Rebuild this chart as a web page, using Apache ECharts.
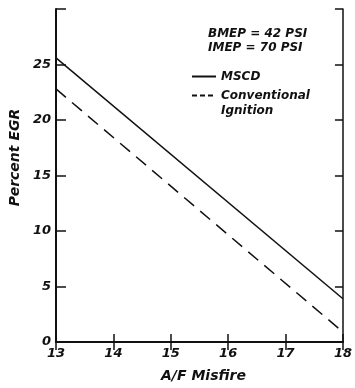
<!DOCTYPE html>
<html>
<head>
<meta charset="utf-8">
<script src="https://cdn.jsdelivr.net/npm/echarts@6/dist/echarts.min.js"></script>
<style>
  html, body { margin: 0; padding: 0; background: #fff; }
  #chart { width: 355px; height: 388px; }
</style>
</head>
<body>
<div id="chart"></div>
<script>
// A/F ratio at misfire (x) against percent EGR (y)
const afRatio = [13, 18];
const mscdEGR = [25.6, 3.9];
const conventionalEGR = [22.8, 0.9];
const xTicks = [13, 14, 15, 16, 17, 18];
const yTicks = [0, 5, 10, 15, 20, 25];

const FONT = '"DejaVu Sans", sans-serif';
const INK = '#111';

const chart = echarts.init(document.getElementById('chart'), null, { renderer: 'canvas' });

const toPairs = (xs, ys) => xs.map((x, i) => [x, ys[i]]);

const frameAxis = (extra) => Object.assign({
  type: 'value',
  axisLine: { show: true, lineStyle: { color: INK, width: 1.5 } },
  axisTick: { show: true, inside: true, length: 8, lineStyle: { color: INK, width: 1.5 } },
  axisLabel: { show: false },
  splitLine: { show: false }
}, extra);

chart.setOption({
  animation: false,
  backgroundColor: '#fff',
  grid: { left: 53, right: 9, top: 9, bottom: 44 },
  xAxis: [
    frameAxis({
      min: 13, max: 18, interval: 1, position: 'bottom',
      axisLine: { show: true, lineStyle: { color: INK, width: 2 } },
      axisLabel: {
        show: true, margin: 5, color: INK,
        fontFamily: FONT, fontWeight: 'bold', fontStyle: 'italic', fontSize: 13,
        formatter: v => xTicks.includes(v) ? String(v) : ''
      },
      name: 'A/F Misfire', nameLocation: 'middle', nameGap: 27,
      nameTextStyle: {
        color: INK, fontFamily: FONT, fontWeight: 'bold', fontStyle: 'italic', fontSize: 14,
        padding: [0, 0, 0, 8]
      }
    }),
    frameAxis({ min: 13, max: 18, interval: 1, position: 'top' })
  ],
  yAxis: [
    frameAxis({
      min: 0, max: 30, interval: 5, position: 'left',
      axisLine: { show: true, lineStyle: { color: INK, width: 2 } },
      axisTick: { show: true, inside: true, length: 10, lineStyle: { color: INK, width: 1.5 } },
      axisLabel: {
        show: true, margin: 5, color: INK,
        fontFamily: FONT, fontWeight: 'bold', fontStyle: 'italic', fontSize: 13,
        formatter: v => yTicks.includes(v) ? String(v) : ''
      },
      name: 'Percent EGR', nameLocation: 'middle', nameGap: 33,
      nameTextStyle: {
        color: INK, fontFamily: FONT, fontWeight: 'bold', fontStyle: 'italic', fontSize: 14,
        padding: [0, 0, 0, 36]
      }
    }),
    frameAxis({ min: 0, max: 30, interval: 5, position: 'right' })
  ],
  legend: {
    orient: 'vertical',
    left: 186, top: 64,
    itemWidth: 24, itemHeight: 10, itemGap: -11,
    itemStyle: { opacity: 0 },
    textStyle: { color: INK, fontFamily: FONT, fontWeight: 'bold', fontStyle: 'italic', fontSize: 12, lineHeight: 15 },
    // a blank first line keeps the dashed key level with "Conventional"
    formatter: name => name === 'Conventional Ignition' ? '\nConventional\nIgnition' : name,
    data: [
      { name: 'MSCD' },
      { name: 'Conventional Ignition', lineStyle: { type: [5, 3] } }
    ]
  },
  graphic: [
    {
      type: 'text', left: 208, top: 27,
      style: {
        text: 'BMEP = 42 PSI\nIMEP = 70 PSI',
        fill: INK, font: 'italic bold 12px ' + FONT, lineHeight: 14
      }
    }
  ],
  series: [
    {
      name: 'MSCD', type: 'line', xAxisIndex: 0, yAxisIndex: 0,
      data: toPairs(afRatio, mscdEGR),
      symbol: 'none',
      lineStyle: { color: INK, width: 1.5, type: 'solid' },
      itemStyle: { color: INK }
    },
    {
      name: 'Conventional Ignition', type: 'line', xAxisIndex: 0, yAxisIndex: 0,
      data: toPairs(afRatio, conventionalEGR),
      symbol: 'none',
      lineStyle: { color: INK, width: 1.5, type: [13, 8] },
      itemStyle: { color: INK }
    }
  ]
});
</script>
</body>
</html>
